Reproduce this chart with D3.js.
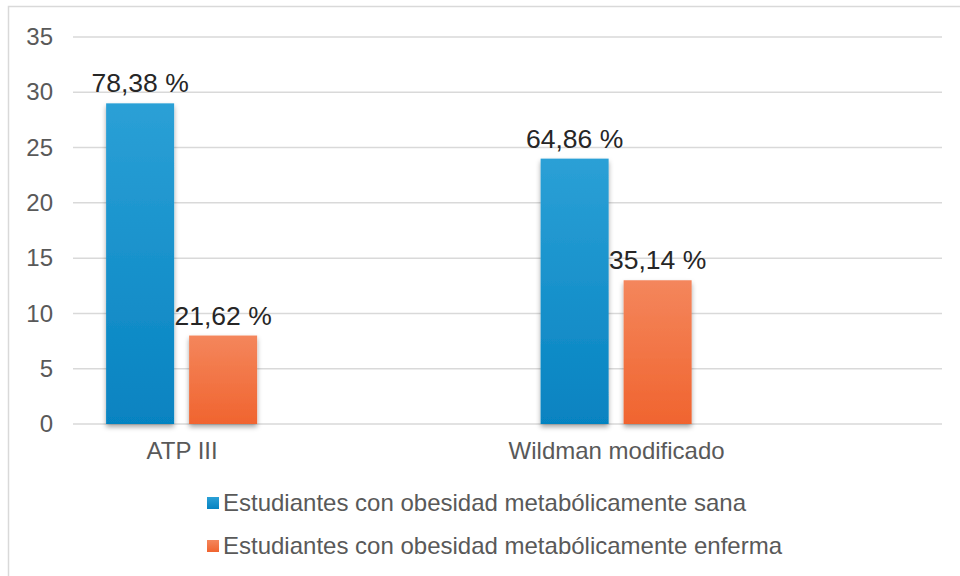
<!DOCTYPE html>
<html>
<head>
<meta charset="utf-8">
<script src="https://cdn.jsdelivr.net/npm/d3@7"></script>
<style>
  body { margin: 0; background: #fff; }
  text { font-family: "Liberation Sans", Arial, sans-serif; }
</style>
</head>
<body>
<script>
  const categories = ['ATP III', 'Wildman modificado'];
  const series = [
    'Estudiantes con obesidad metabólicamente sana',
    'Estudiantes con obesidad metabólicamente enferma',
  ];
  const sanaValues = [29, 24];
  const enfermaValues = [8, 13];
  const sanaLabels = ['78,38 %', '64,86 %'];
  const enfermaLabels = ['21,62 %', '35,14 %'];
  const yTicks = [0, 5, 10, 15, 20, 25, 30, 35];

  const width = 960;
  const height = 576;
  const margin = { top: 37, right: 18, bottom: 152, left: 73 };

  const data = categories.map((c, i) => ({
    category: c,
    values: [
      { key: series[0], value: sanaValues[i], label: sanaLabels[i] },
      { key: series[1], value: enfermaValues[i], label: enfermaLabels[i] },
    ],
  }));

  const svg = d3.select('body')
    .append('svg')
    .attr('width', width)
    .attr('height', height);

  const defs = svg.append('defs');
  const gradients = [
    { id: 'g-sana', top: '#2ba0d6', bottom: '#0683c1' },
    { id: 'g-enferma', top: '#f4865c', bottom: '#f0642f' },
  ];
  gradients.forEach((g) => {
    const lg = defs.append('linearGradient')
      .attr('id', g.id)
      .attr('x1', 0).attr('y1', 0).attr('x2', 0).attr('y2', 1);
    lg.append('stop').attr('offset', '0%').attr('stop-color', g.top);
    lg.append('stop').attr('offset', '100%').attr('stop-color', g.bottom);
  });
  defs.append('filter')
    .attr('id', 'shadow')
    .attr('x', '-20%').attr('y', '-10%').attr('width', '140%').attr('height', '130%')
    .append('feDropShadow')
    .attr('dx', 0).attr('dy', 3).attr('stdDeviation', 2.5)
    .attr('flood-color', '#000').attr('flood-opacity', 0.35);

  // outer chart border
  svg.append('rect')
    .attr('x', 8.5).attr('y', 6.5)
    .attr('width', width + 10).attr('height', height + 10)
    .attr('fill', 'none')
    .attr('stroke', '#d9d9d9')
    .attr('stroke-width', 1.5);

  const yScale = d3.scaleLinear()
    .domain([0, 35])
    .range([height - margin.bottom, margin.top]);

  const plotLeft = margin.left;
  const plotRight = width - margin.right;
  const step = (plotRight - plotLeft) / 2;

  const xScale = d3.scalePoint()
    .domain(categories)
    .range([plotLeft + step / 4, plotLeft + step / 4 + step]);

  const xSub = d3.scaleBand()
    .domain(series)
    .range([-75.5, 75.5])
    .paddingInner(15 / 83)
    .paddingOuter(0);

  // gridlines
  svg.append('g')
    .selectAll('line')
    .data(yTicks)
    .join('line')
    .attr('x1', plotLeft)
    .attr('x2', plotRight)
    .attr('y1', (d) => yScale(d))
    .attr('y2', (d) => yScale(d))
    .attr('stroke', '#d9d9d9')
    .attr('stroke-width', 1.5);

  // y axis labels
  const yAxis = svg.append('g')
    .attr('transform', `translate(${plotLeft - 20}, 0)`)
    .call(d3.axisLeft(yScale).tickValues(yTicks).tickSize(0).tickPadding(0));
  yAxis.select('.domain').remove();
  yAxis.selectAll('text')
    .attr('font-size', 24)
    .attr('fill', '#595959')
    .attr('font-family', '"Liberation Sans", Arial, sans-serif');

  // x axis labels
  const xAxis = svg.append('g')
    .attr('transform', `translate(0, ${yScale(0)})`)
    .call(d3.axisBottom(xScale).tickSize(0).tickPadding(18));
  xAxis.select('.domain').remove();
  xAxis.selectAll('text')
    .attr('font-size', 24)
    .attr('fill', '#595959')
    .attr('font-family', '"Liberation Sans", Arial, sans-serif');

  const colorId = d3.scaleOrdinal().domain(series).range(['url(#g-sana)', 'url(#g-enferma)']);

  const groups = svg.append('g')
    .selectAll('g')
    .data(data)
    .join('g')
    .attr('transform', (d) => `translate(${xScale(d.category)}, 0)`);

  groups.selectAll('rect')
    .data((d) => d.values)
    .join('rect')
    .attr('x', (d) => xSub(d.key))
    .attr('width', xSub.bandwidth())
    .attr('y', (d) => yScale(d.value))
    .attr('height', (d) => yScale(0) - yScale(d.value))
    .attr('fill', (d) => colorId(d.key))
    .attr('filter', 'url(#shadow)');

  groups.selectAll('text')
    .data((d) => d.values)
    .join('text')
    .attr('x', (d) => xSub(d.key) + xSub.bandwidth() / 2)
    .attr('y', (d) => yScale(d.value) - 11)
    .attr('text-anchor', 'middle')
    .attr('font-size', 26.5)
    .attr('fill', '#262626')
    .text((d) => d.label);

  // legend
  const legend = svg.append('g')
    .attr('transform', 'translate(207, 497)')
    .selectAll('g')
    .data(series)
    .join('g')
    .attr('transform', (d, i) => `translate(0, ${i * 43})`);

  legend.append('rect')
    .attr('width', 12)
    .attr('height', 12)
    .attr('fill', (d) => colorId(d));

  legend.append('text')
    .attr('x', 16)
    .attr('y', 14)
    .attr('font-size', 24)
    .attr('fill', '#595959')
    .text((d) => d);
</script>
</body>
</html>
